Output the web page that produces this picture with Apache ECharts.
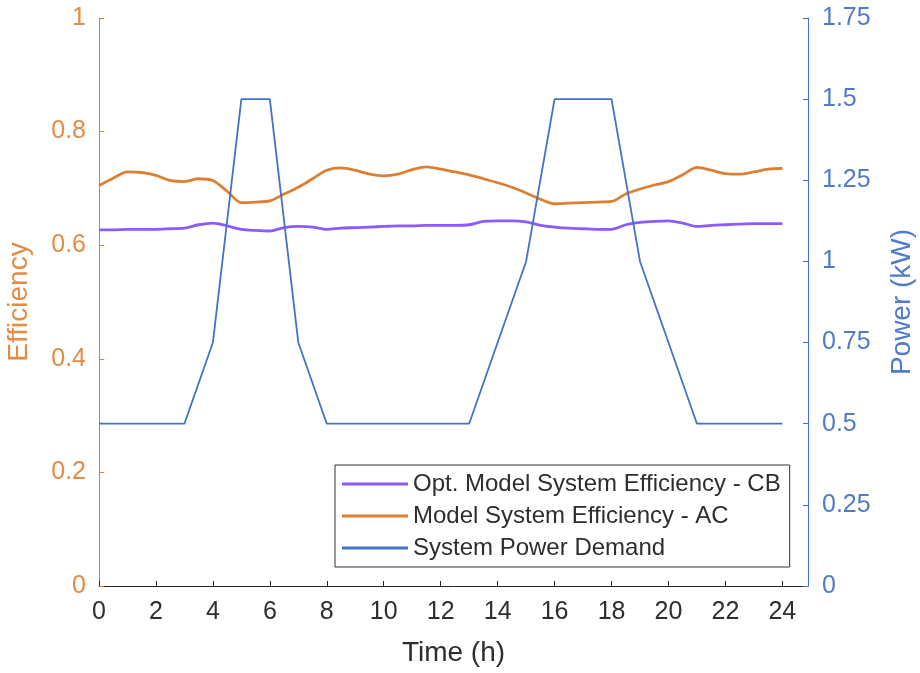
<!DOCTYPE html>
<html>
<head>
<meta charset="utf-8">
<script src="https://cdn.jsdelivr.net/npm/echarts@6/dist/echarts.min.js"></script>
<style>
  html, body { margin: 0; padding: 0; background: #ffffff; }
  #chart { width: 920px; height: 673px; }
</style>
</head>
<body>
<div id="chart"></div>
<script>
// Half-hourly efficiency samples over a day
const effHours = [0, 0.5, 1, 1.5, 2, 2.5, 3, 3.5, 4, 4.5, 5, 5.5, 6, 6.5, 7, 7.5, 8, 8.5, 9, 9.5,
  10, 10.5, 11, 11.5, 12, 12.5, 13, 13.5, 14, 14.5, 15, 15.5, 16, 16.5, 17, 17.5, 18, 18.5, 19, 19.5,
  20, 20.5, 21, 21.5, 22, 22.5, 23, 23.5, 24];

const effCB = [0.627, 0.627, 0.628, 0.628, 0.628, 0.629, 0.630, 0.636, 0.639, 0.634, 0.628, 0.626, 0.625,
  0.631, 0.633, 0.632, 0.628, 0.630, 0.631, 0.632, 0.633, 0.634, 0.634, 0.635, 0.635, 0.635, 0.636,
  0.642, 0.643, 0.643, 0.641, 0.635, 0.632, 0.630, 0.629, 0.628, 0.628, 0.636, 0.640, 0.642, 0.643,
  0.639, 0.633, 0.635, 0.636, 0.637, 0.638, 0.638, 0.638];

const effAC = [0.705, 0.718, 0.729, 0.728, 0.723, 0.714, 0.712, 0.717, 0.714, 0.695, 0.675, 0.676, 0.678,
  0.690, 0.702, 0.717, 0.732, 0.736, 0.732, 0.725, 0.722, 0.725, 0.733, 0.738, 0.734, 0.729, 0.724,
  0.717, 0.710, 0.702, 0.692, 0.681, 0.673, 0.674, 0.675, 0.676, 0.677, 0.690, 0.699, 0.706, 0.712,
  0.724, 0.737, 0.732, 0.726, 0.725, 0.729, 0.734, 0.735];

// Hourly power demand (kW)
const powerHours = [0, 1, 2, 3, 4, 5, 6, 7, 8, 9, 10, 11, 12, 13, 14, 15, 16, 17, 18, 19, 20, 21, 22, 23, 24];
const powerKW = [0.5, 0.5, 0.5, 0.5, 0.75, 1.5, 1.5, 0.75, 0.5, 0.5, 0.5, 0.5, 0.5, 0.5, 0.75, 1.0,
  1.5, 1.5, 1.5, 1.0, 0.75, 0.5, 0.5, 0.5, 0.5];

const timeTicks = [0, 2, 4, 6, 8, 10, 12, 14, 16, 18, 20, 22, 24];

const seriesNames = ['Opt. Model System Efficiency - CB', 'Model System Efficiency - AC', 'System Power Demand'];

const ORANGE = '#dd7f33';
const ORANGE_TXT = '#e38c45';
const PURPLE = '#8a5cff';
const BLUE = '#4472c4';
const BLUE_TXT = '#4f7bc8';
const DARK = '#262626';
const TXT = '#2e2e2e';
const FONT = "'Liberation Sans', Arial, Helvetica, sans-serif";

const pairs = (xs, ys) => xs.map((x, i) => [x, ys[i]]);

const chart = echarts.init(document.getElementById('chart'), null, { renderer: 'canvas' });

chart.setOption({
  backgroundColor: '#ffffff',
  animation: false,
  textStyle: { fontFamily: FONT },
  grid: { left: 99, right: 112, top: 18, bottom: 87, containLabel: false, outerBoundsMode: 'none' },
  legend: {
    orient: 'vertical',
    left: 335,
    top: 465,
    padding: [7, 9, 7, 7],
    itemGap: 8,
    itemWidth: 66,
    itemHeight: 3,
    icon: 'rect',
    backgroundColor: '#ffffff',
    borderColor: '#333333',
    borderWidth: 1,
    textStyle: { fontFamily: FONT, fontSize: 24, color: TXT },
    data: seriesNames
  },
  xAxis: {
    type: 'value',
    min: 0,
    max: 24.9,
    name: 'Time (h)',
    nameLocation: 'middle',
    nameGap: 53,
    nameTextStyle: { fontFamily: FONT, fontSize: 28, color: TXT },
    axisLine: { show: true, lineStyle: { color: DARK, width: 1 } },
    axisTick: { show: true, inside: true, length: 5, lineStyle: { color: DARK }, customValues: timeTicks },
    axisLabel: { margin: 14, fontSize: 25, color: TXT, fontFamily: FONT, customValues: timeTicks },
    splitLine: { show: false }
  },
  yAxis: [
    {
      type: 'value',
      position: 'left',
      min: 0,
      max: 1,
      interval: 0.2,
      name: 'Efficiency',
      nameLocation: 'middle',
      nameGap: 66,
      nameTextStyle: { fontFamily: FONT, fontSize: 28, color: ORANGE_TXT },
      axisLine: { show: true, lineStyle: { color: ORANGE, width: 1 } },
      axisTick: { show: true, inside: true, length: 5, lineStyle: { color: ORANGE } },
      axisLabel: { margin: 13, fontSize: 25, color: ORANGE_TXT, fontFamily: FONT },
      splitLine: { show: false }
    },
    {
      type: 'value',
      position: 'right',
      min: 0,
      max: 1.75,
      interval: 0.25,
      name: 'Power (kW)',
      nameLocation: 'middle',
      nameGap: 80,
      nameTextStyle: { fontFamily: FONT, fontSize: 28, color: BLUE_TXT },
      axisLine: { show: true, lineStyle: { color: BLUE, width: 1 } },
      axisTick: { show: true, inside: true, length: 5, lineStyle: { color: BLUE } },
      axisLabel: { margin: 14, fontSize: 25, color: BLUE_TXT, fontFamily: FONT },
      splitLine: { show: false }
    }
  ],
  series: [
    {
      name: seriesNames[0],
      type: 'line',
      yAxisIndex: 0,
      data: pairs(effHours, effCB),
      showSymbol: false,
      symbol: 'none',
      smooth: 0.3,
      itemStyle: { color: PURPLE },
      lineStyle: { color: PURPLE, width: 2.8 },
      z: 3
    },
    {
      name: seriesNames[1],
      type: 'line',
      yAxisIndex: 0,
      data: pairs(effHours, effAC),
      showSymbol: false,
      symbol: 'none',
      smooth: 0.3,
      itemStyle: { color: ORANGE },
      lineStyle: { color: ORANGE, width: 2.8 },
      z: 3
    },
    {
      name: seriesNames[2],
      type: 'line',
      yAxisIndex: 1,
      data: pairs(powerHours, powerKW),
      showSymbol: false,
      symbol: 'none',
      itemStyle: { color: BLUE },
      lineStyle: { color: BLUE, width: 1.8 },
      z: 4
    }
  ]
});
</script>
</body>
</html>
